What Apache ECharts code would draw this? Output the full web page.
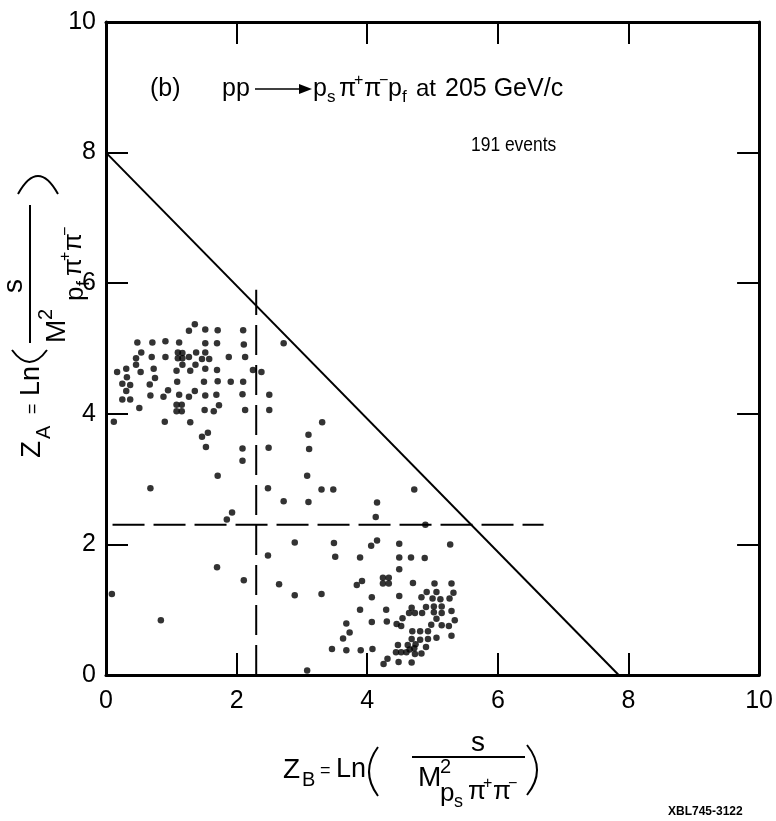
<!DOCTYPE html>
<html><head><meta charset="utf-8">
<script src="https://cdn.jsdelivr.net/npm/echarts@6/dist/echarts.min.js"></script>
<style>html,body{margin:0;padding:0;background:#fff;}#c{width:776px;height:821px;}</style>
</head><body><div id="c"></div>
<script>
// ---- data ----
const xTickValues = [0, 2, 4, 6, 8, 10];
const yTickValues = [0, 2, 4, 6, 8, 10];
// 191 events: [Z_B, Z_A]
const events = [
 [1.36,5.37],[1.27,5.27],[1.52,5.29],[1.71,5.28],[2.10,5.28],[0.48,5.09],[0.71,5.09],[0.91,5.11],[1.12,5.09],[1.52,5.08],
 [1.70,5.08],[2.11,5.06],[2.72,5.08],[0.54,4.94],[0.70,4.87],[0.91,4.87],[1.10,4.94],[1.17,4.93],[1.10,4.85],[1.17,4.85],
 [1.27,4.87],[1.38,4.94],[1.52,4.94],[1.47,4.84],[1.58,4.84],[1.88,4.87],[2.13,4.87],[0.46,4.85],[0.46,4.75],[0.17,4.64],
 [0.31,4.69],[0.53,4.64],[0.73,4.69],[1.08,4.66],[1.17,4.75],[1.29,4.66],[1.37,4.75],[1.52,4.69],[1.70,4.67],[2.25,4.67],
 [2.38,4.64],[0.32,4.56],[0.25,4.46],[0.37,4.44],[0.75,4.55],[0.67,4.45],[1.09,4.49],[1.50,4.49],[1.71,4.50],[1.91,4.49],
 [2.10,4.49],[0.31,4.35],[0.25,4.22],[0.37,4.22],[0.95,4.36],[0.88,4.26],[0.68,4.28],[1.12,4.29],[1.27,4.26],[1.36,4.35],
 [1.52,4.28],[1.69,4.29],[2.09,4.30],[2.50,4.29],[0.51,4.09],[1.08,4.14],[1.16,4.14],[1.08,4.04],[1.16,4.04],[1.51,4.06],
 [1.65,4.04],[1.73,4.13],[2.13,4.06],[2.50,4.06],[0.12,3.88],[0.90,3.88],[1.29,3.87],[1.56,3.71],[1.47,3.65],[1.53,3.49],
 [2.09,3.47],[2.49,3.48],[3.31,3.87],[3.10,3.68],[3.11,3.46],[2.09,3.28],[3.08,3.05],[2.48,2.86],[3.30,2.84],[3.48,2.84],
 [4.72,2.84],[2.72,2.66],[3.10,2.65],[4.15,2.64],[4.13,2.42],[4.89,2.30],[2.89,2.03],[3.49,2.02],[4.06,1.98],[4.15,2.06],
 [4.49,2.01],[5.27,2.00],[2.48,1.83],[3.51,1.81],[3.89,1.80],[4.49,1.80],[4.67,1.80],[4.88,1.79],[1.71,3.05],[0.68,2.86],
 [1.93,2.49],[1.85,2.38],[1.70,1.65],[2.11,1.45],[2.65,1.39],[2.89,1.22],[3.30,1.24],[0.09,1.24],[0.84,0.84],[3.68,0.79],
 [3.63,0.56],[3.46,0.40],[3.68,0.38],[3.08,0.07],[4.49,1.62],[4.24,1.49],[4.33,1.49],[4.24,1.40],[4.33,1.40],[3.84,1.38],
 [3.92,1.44],[4.70,1.41],[5.03,1.40],[5.29,1.40],[4.91,1.27],[5.06,1.27],[5.32,1.26],[4.07,1.19],[4.49,1.21],[4.83,1.19],
 [5.00,1.17],[5.12,1.16],[5.26,1.17],[4.90,1.04],[5.02,1.05],[5.14,1.05],[4.68,1.03],[3.89,1.00],[4.29,1.00],[4.64,0.95],
 [4.73,0.95],[4.84,0.95],[5.02,0.96],[5.14,0.95],[5.29,0.98],[4.54,0.87],[5.06,0.86],[5.34,0.84],[4.07,0.81],[4.30,0.82],
 [4.45,0.78],[4.52,0.75],[4.98,0.77],[5.14,0.76],[5.25,0.75],[4.69,0.67],[4.81,0.67],[4.93,0.67],[3.73,0.65],[5.29,0.60],
 [4.68,0.55],[4.81,0.54],[4.93,0.55],[5.06,0.57],[4.47,0.46],[4.62,0.46],[4.74,0.47],[4.90,0.43],[3.90,0.38],[4.08,0.40],
 [4.44,0.35],[4.52,0.35],[4.60,0.35],[4.65,0.39],[4.72,0.41],[4.73,0.32],[4.83,0.33],[4.31,0.25],[4.25,0.17],[4.48,0.20],
 [4.68,0.19]
];
const kinematicLimit = [[0, 8], [7.85, 0]];
const cutZA = [[0.1, 2.3], [6.7, 2.3]];
const cutZB = [[2.3, 0], [2.3, 5.9]];

// ---- chart ----
const FF = '"Liberation Sans", Arial, sans-serif';
const chart = echarts.init(document.getElementById('c'), null, {renderer: 'canvas'});

function T(x, y, text, size, extra, elExtra) {
  return Object.assign({
    type: 'text', x: x, y: y, silent: true,
    style: Object.assign({text: text, font: size + 'px ' + FF, fill: '#000', align: 'left', verticalAlign: 'middle'}, (extra || {}))
  }, elExtra || {});
}
function L(x1, y1, x2, y2, w) {
  return {type: 'line', silent: true, shape: {x1: x1, y1: y1, x2: x2, y2: y2}, style: {stroke: '#000', lineWidth: w || 2}};
}
function P(x1, y1, x2, y2, cx, cy) {
  return {type: 'bezierCurve', silent: true, shape: {x1: x1, y1: y1, x2: x2, y2: y2, cpx1: cx, cpy1: cy},
          style: {stroke: '#000', lineWidth: 2, fill: null}};
}

const axisLineStyle = {color: '#000', width: 3};
const tickCfg = {inside: true, length: 22, lineStyle: {color: '#000', width: 2}};
function baseAxis(extra) {
  return Object.assign({
    type: 'value', min: xTickValues[0], max: xTickValues[xTickValues.length - 1], interval: 2,
    axisLine: {show: true, onZero: false, lineStyle: axisLineStyle},
    axisTick: tickCfg, splitLine: {show: false}
  }, extra);
}

const xTitle = {
  type: 'group', x: 283, y: 770, children: [
    T(0, 0, 'Z', 28), T(19, 10, 'B', 20), T(37, 1, '=', 18), T(53, 0, 'Ln', 27),
    P(95, -23, 95, 26, 77, 1.5),
    L(129, -13, 242, -13, 2),
    T(195, -27, 's', 28, {align: 'center'}),
    T(135, 8, 'M', 28), T(157, -3, '2', 20),
    T(157, 24, 'p', 26), T(171, 32, 's', 18), T(185, 22, 'π', 26), T(200, 14, '+', 16), T(210, 22, 'π', 26), T(225, 14, '−', 16),
    P(244, -25, 244, 25, 264, 0)
  ]
};
const yTitle = {
  type: 'group', x: 32, y: 458, rotation: Math.PI / 2, children: [
    T(0, 0, 'Z', 28), T(19, 12, 'A', 20), T(44, 1, '=', 18), T(62, 0, 'Ln', 27),
    P(108, -20, 108, 15, 84, -2.5),
    L(115, -2, 253, -2, 2),
    T(172, -18, 's', 28, {align: 'center'}),
    T(115, 25, 'M', 28), T(138, 14, '2', 20),
    T(157, 44, 'p', 26), T(172, 52, 'f', 18), T(182, 42, 'π', 26), T(197, 34, '+', 16), T(207, 42, 'π', 26), T(222, 34, '−', 16),
    P(264, -14, 264, 26, 300, 6)
  ]
};

const option = {
  animation: false,
  backgroundColor: '#fff',
  grid: {left: 106, right: 12, top: 22, bottom: 146, containLabel: false},
  xAxis: [
    baseAxis({position: 'bottom', axisLabel: {fontSize: 25, color: '#000', margin: 14, fontFamily: FF}}),
    baseAxis({position: 'top', axisLabel: {show: false}})
  ],
  yAxis: [
    baseAxis({position: 'left', axisLabel: {fontSize: 25, color: '#000', margin: 10, fontFamily: FF}}),
    baseAxis({position: 'right', axisLabel: {show: false}})
  ],
  series: [
    {type: 'line', data: kinematicLimit, showSymbol: false, silent: true, lineStyle: {color: '#000', width: 2}},
    {type: 'line', data: cutZA, showSymbol: false, silent: true, lineStyle: {color: '#000', width: 2, type: [32, 9]}},
    {type: 'line', data: cutZB, showSymbol: false, silent: true, lineStyle: {color: '#000', width: 2, type: [30, 10]}},
    {type: 'scatter', data: events, symbol: 'circle', symbolSize: 6.5, itemStyle: {color: '#000'}, silent: true}
  ],
  graphic: [
    T(150, 89, '(b)', 25),
    T(222, 89, 'pp', 25),
    L(255, 89, 302, 89, 1.5),
    {type: 'polygon', silent: true, shape: {points: [[299, 84], [312, 89], [299, 94]]}, style: {fill: '#000'}},
    T(313, 89, 'p', 25), T(327, 97, 's', 17), T(339, 89, 'π', 25), T(354, 81, '+', 16), T(364, 89, 'π', 25), T(379, 81, '−', 16),
    T(388, 89, 'p', 25), T(402, 97, 'f', 17),
    T(416, 89, 'at', 24),
    T(445, 89, '205 GeV/c', 25),
    T(471, 145, '191 events', 21, null, {scaleX: 0.83}),
    xTitle, yTitle,
    T(668, 812, 'XBL745-3122', 12, {font: 'bold 12px ' + FF})
  ]
};
chart.setOption(option);
</script></body></html>
